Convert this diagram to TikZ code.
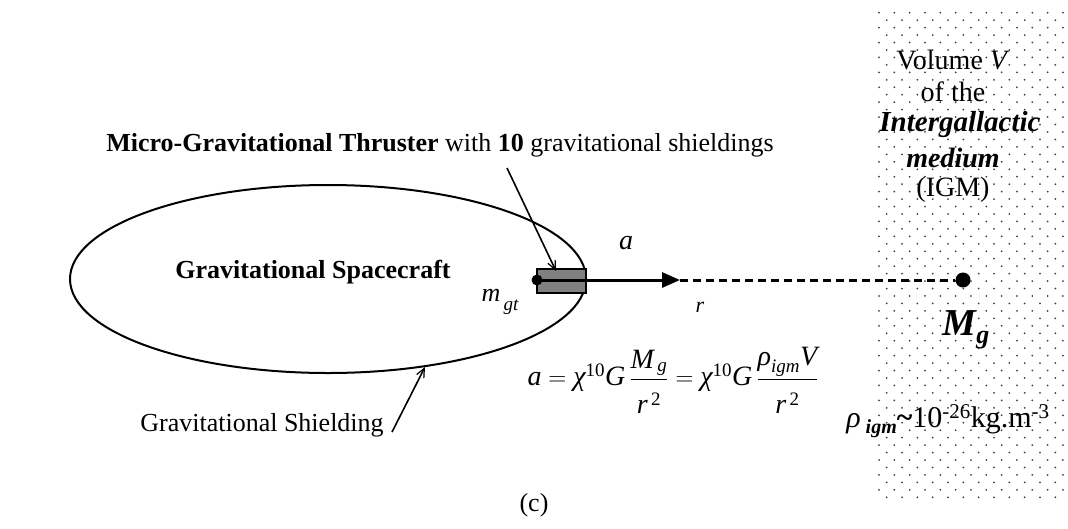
\documentclass[tikz,border=0pt]{standalone}
\usepackage{amsmath}
\usepackage{fontspec}
\setmainfont{Liberation Serif}
\usetikzlibrary{arrows.meta}
\newcommand{\ti}[1]{\text{\itshape #1}}
\newcommand{\sups}[1]{\mbox{\fontsize{19}{20}\selectfont #1}}
\newcommand{\subs}[1]{\mbox{\fontsize{19}{20}\selectfont\itshape #1}}
\begin{document}
\begin{tikzpicture}[x=1pt,y=-1pt,
  txt/.style={inner sep=0pt,font=\fontsize{26}{30}\selectfont},
  rtxt/.style={inner sep=0pt,font=\fontsize{28}{32}\selectfont},
  thin arrow/.style={line width=1.6pt,-{Straight Barb[length=9pt,width=8pt,line width=1.2pt]}},
  thick line/.style={line width=3pt}]
\useasboundingbox (0,0) rectangle (1068,528);
% dotted volume
\foreach \i in {0,...,65}{
  \pgfmathsetmacro{\yy}{12.7+7.455*\i}
  \ifodd\i
    \foreach \k in {0,...,11}{\fill[black!75] (886.7+15.33*\k,\yy) circle (1pt);}
  \else
    \foreach \k in {0,...,12}{\fill[black!75] (879+15.33*\k,\yy) circle (1pt);}
  \fi
}
% spacecraft
\draw[line width=2pt] (328,279) ellipse [x radius=258, y radius=94];
\node[txt,font=\fontsize{26}{30}\selectfont\bfseries] (sc) at (313,272) {Gravitational Spacecraft};
% thruster
\node[draw,line width=1.5pt,fill=black!50,minimum width=49pt,minimum height=24pt,inner sep=0pt] (box) at (561.5,281) {};
\coordinate (start) at (537,280);
\coordinate (tip) at (680,280);
\node[circle,fill=black,inner sep=0pt,minimum size=11pt] (mdot) at (start) {};
\draw[thick line,-{Triangle[length=18pt,width=15pt]}] (start) -- (tip);
\node[circle,fill=black,inner sep=0pt,minimum size=15pt] (mg) at (963,280) {};
\draw[thick line,dash pattern=on 8pt off 5pt] (tip) -- (mg);
% labels
\node[txt] (toplabel) at (440,145) {\textbf{Micro-Gravitational Thruster} with \textbf{10} gravitational shieldings};
\coordinate (tl) at (507,168);
\coordinate (tb) at (556,271);
\draw[thin arrow] (tl) -- (tb);
\node[txt] (mgt) at (500,302) {\itshape m\raisebox{-0.35em}{\fontsize{19}{20}\selectfont\itshape \,gt}};
\node[txt,font=\fontsize{28}{30}\selectfont\itshape] (alab) at (626,243) {a};
\node[txt,font=\fontsize{22}{26}\selectfont\itshape] (rlab) at (700,307) {r};
\node[txt,font=\fontsize{28}{32}\selectfont] (eq) at (673,380) {$\ti{a}=\ti{χ}^{\sups{10}}\ti{G}\,\dfrac{\ti{M}_{\,\subs{g}}\rule[-8pt]{0pt}{0pt}}{\rule{0pt}{30pt}\ti{r}^{\,\sups{2}}}=\ti{χ}^{\sups{10}}\ti{G}\,\dfrac{\ti{ρ}_{\subs{igm}}\ti{V}\rule[-8pt]{0pt}{0pt}}{\rule{0pt}{30pt}\ti{r}^{\,\sups{2}}}$};
\node[txt] (gs) at (262,425) {Gravitational Shielding};
\coordinate (gsa) at (392,432);
\coordinate (gsb) at (425,367);
\draw[thin arrow] (gsa) -- (gsb);
% right block
\node[rtxt] (v1) at (953,60) {Volume \textit{V}};
\node[rtxt] (v2) at (953,92) {of the};
\node[rtxt,font=\fontsize{29}{32}\selectfont\bfseries\itshape] (v3) at (960,125) {Intergallactic};
\node[rtxt,font=\fontsize{28}{32}\selectfont\bfseries\itshape] (v4) at (953,158) {medium};
\node[rtxt] (v5) at (953,190) {(IGM)};
\node[inner sep=0pt,font=\fontsize{38}{44}\selectfont\bfseries\itshape] (mglab) at (966,330) {M\raisebox{-0.22em}{\fontsize{26}{30}\selectfont g}};
\node[txt,font=\fontsize{30}{34}\selectfont] (rho) at (948,421) {\textit{ρ}\,\raisebox{-0.2em}{\fontsize{20}{22}\selectfont\bfseries\itshape igm}\textbf{\textasciitilde}10\textsuperscript{-26}kg.m\textsuperscript{-3}};
\node[txt] (cap) at (534,505) {(c)};
\end{tikzpicture}
\end{document}
